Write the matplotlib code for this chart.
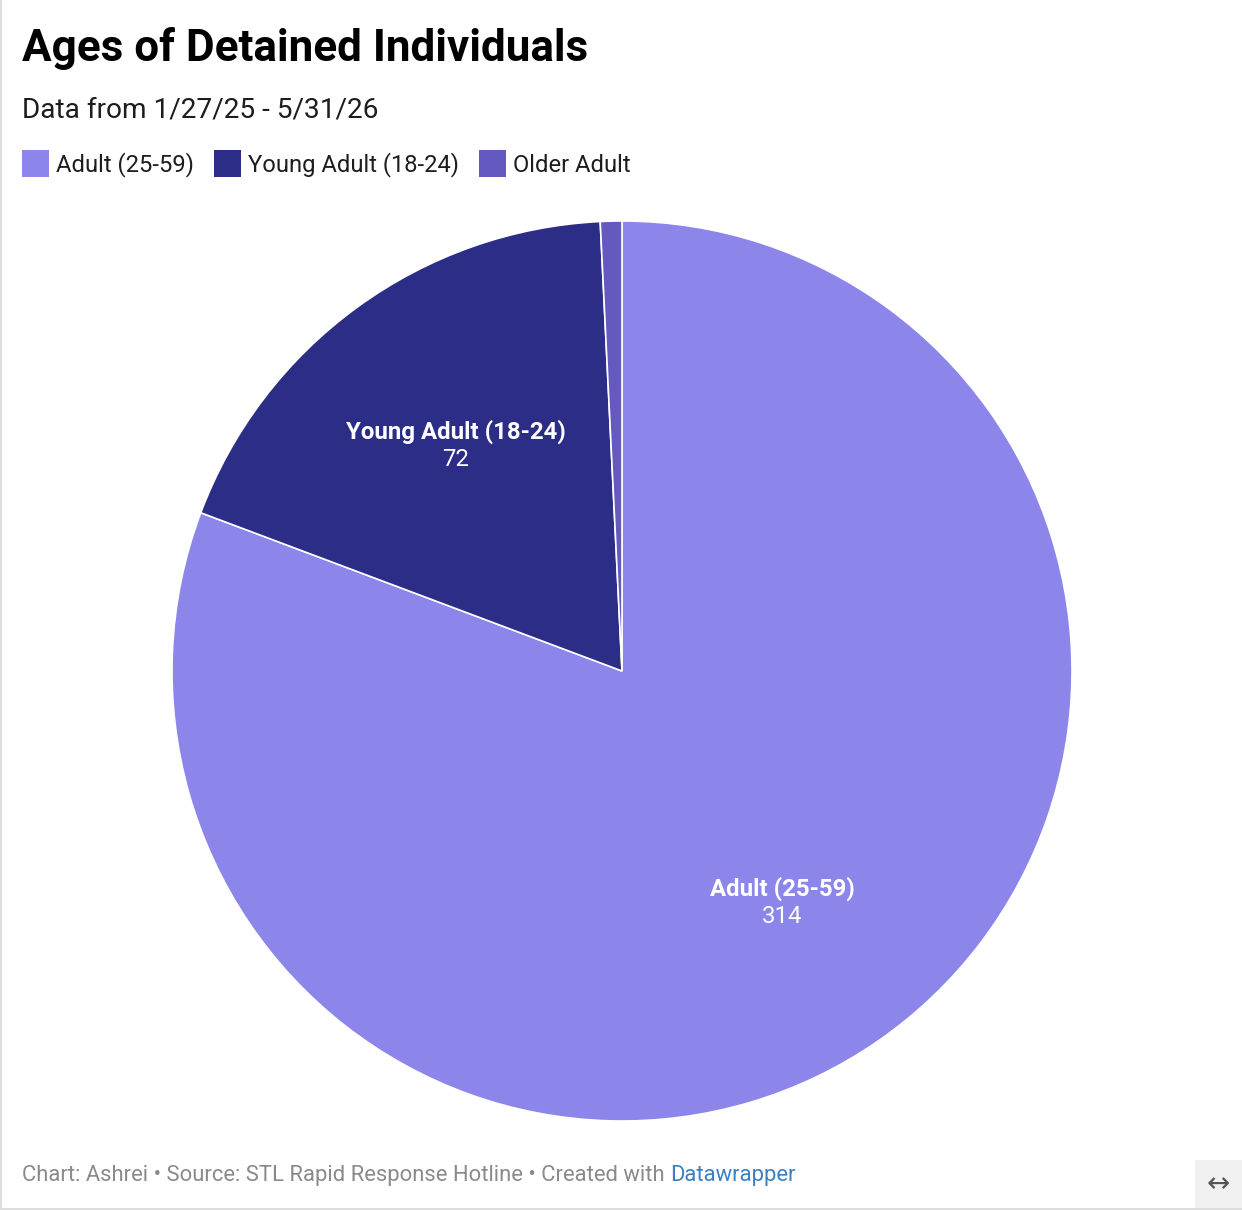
import matplotlib
matplotlib.use("Agg")
from matplotlib import pyplot as plt
from matplotlib.patches import Rectangle

plt.rcParams['font.family'] = ['Roboto', 'DejaVu Sans']

# dados
categories = ['Adult (25-59)', 'Young Adult (18-24)', 'Older Adult']
values = [314, 72, 3]
colors = ['#8c85ea', '#2b2d86', '#6459c0']

TITLE = 'Ages of Detained Individuals'
SUBTITLE = 'Data from 1/27/25 - 5/31/26'
FOOTER = 'Chart: Ashrei \u2022 Source: STL Rapid Response Hotline \u2022 Created with '
FOOTER_LINK = 'Datawrapper'

W, H = 1242, 1210
fig = plt.figure(figsize=(W / 100, H / 100), dpi=100)
fig.patch.set_facecolor('white')

def px(x, y):
    return x / W, 1 - y / H

# pizza
ax = fig.add_axes([(622 - 450) / W, (H - 1121) / H, 900 / W, 900 / H])
wedges, _ = ax.pie(values, colors=colors, startangle=90, counterclock=False,
                   wedgeprops=dict(edgecolor='white', linewidth=1.2))
ax.set_xlim(-1, 1)
ax.set_ylim(-1, 1)
ax.set_axis_off()

# rótulos dentro das fatias (nome, valor)
label_pos = {0: (0.356, -0.484, -0.546), 1: (-0.369, 0.531, 0.469)}
for i, (lx, ly1, ly2) in label_pos.items():
    ax.text(lx, ly1, categories[i], ha='center', va='center', color='white',
            fontsize=17.3, fontweight='bold')
    ax.text(lx, ly2, str(values[i]), ha='center', va='center', color='white',
            fontsize=17.3)

# título e subtítulo
fig.text(*px(22, 48), TITLE, fontsize=31.7, fontweight='bold', va='center', ha='left')
fig.text(*px(22, 110), SUBTITLE, fontsize=20.2, va='center', ha='left', color='#1d1d1d')

# legenda
fig.canvas.draw()
renderer = fig.canvas.get_renderer()
x = 22
for name, c in zip(categories, colors):
    fig.patches.append(Rectangle(px(x, 177), 27 / W, 27 / H, transform=fig.transFigure,
                                 facecolor=c, edgecolor='none'))
    t = fig.text(*px(x + 34, 165), name, fontsize=17.1, va='center', ha='left', color='#1d1d1d')
    wpx = t.get_window_extent(renderer).width
    x = x + 34 + wpx + 20

# rodapé
t = fig.text(*px(22, 1175), FOOTER, fontsize=15.8, va='center', ha='left', color='#8a8a8a')
wpx = t.get_window_extent(renderer).width
fig.text(*px(22 + wpx, 1175), FOOTER_LINK, fontsize=15.8, va='center', ha='left', color='#3a80c3')

# caixa do ícone
fig.patches.append(Rectangle(px(1195, 1208), 47 / W, 48 / H, transform=fig.transFigure,
                             facecolor='#f0f0f0', edgecolor='none'))
fig.text(*px(1218, 1184), '\u2194', fontsize=20, ha='center', va='center', color='#555555',
         family='DejaVu Sans')

# bordas
fig.patches.append(Rectangle((0, 0), 2 / W, 1, transform=fig.transFigure,
                             facecolor='#dddddd', edgecolor='none'))
fig.patches.append(Rectangle((0, 0), 1, 2 / H, transform=fig.transFigure,
                             facecolor='#dddddd', edgecolor='none'))

fig.savefig('out.png', dpi=100, facecolor='white')
